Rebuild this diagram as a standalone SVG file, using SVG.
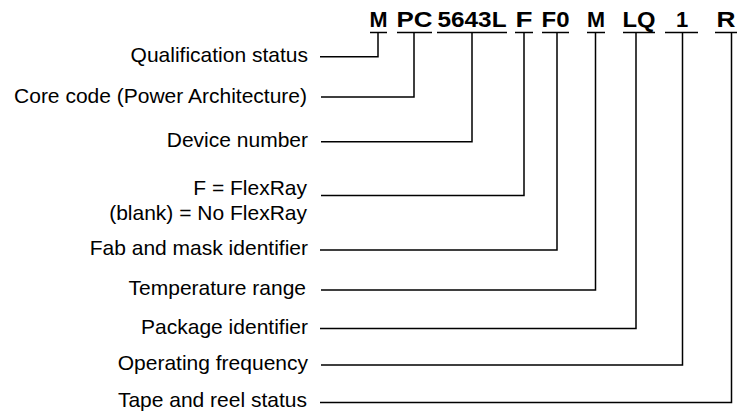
<svg xmlns="http://www.w3.org/2000/svg" width="738" height="413" viewBox="0 0 738 413">
<style>
.lbl{font-family:"Liberation Sans",Arial,sans-serif;font-size:21px;fill:#000;text-anchor:end}
.code{font-family:"Liberation Sans",Arial,sans-serif;font-size:22px;font-weight:bold;fill:#000;text-anchor:middle}
.ul{stroke:#000;stroke-width:1.5;fill:none}
.conn{stroke:#000;stroke-width:1.5;fill:none}
</style>
<rect width="738" height="413" fill="#fff"/>
<g id="code-M"><text class="code" x="378.5" y="27" textLength="18" lengthAdjust="spacingAndGlyphs">M</text><line class="ul" x1="370" y1="32.5" x2="387" y2="32.5"/></g>
<g id="code-PC"><text class="code" x="414.5" y="27" textLength="36" lengthAdjust="spacingAndGlyphs">PC</text><line class="ul" x1="397" y1="32.5" x2="432" y2="32.5"/></g>
<g id="code-5643L"><text class="code" x="472" y="27" textLength="69" lengthAdjust="spacingAndGlyphs">5643L</text><line class="ul" x1="437" y1="32.5" x2="507" y2="32.5"/></g>
<g id="code-F"><text class="code" x="524" y="27" textLength="17" lengthAdjust="spacingAndGlyphs">F</text><line class="ul" x1="515" y1="32.5" x2="533" y2="32.5"/></g>
<g id="code-F0"><text class="code" x="555.5" y="27" textLength="28" lengthAdjust="spacingAndGlyphs">F0</text><line class="ul" x1="542" y1="32.5" x2="569" y2="32.5"/></g>
<g id="code-M2"><text class="code" x="596" y="27" textLength="18" lengthAdjust="spacingAndGlyphs">M</text><line class="ul" x1="587" y1="32.5" x2="605" y2="32.5"/></g>
<g id="code-LQ"><text class="code" x="639" y="27" textLength="33" lengthAdjust="spacingAndGlyphs">LQ</text><line class="ul" x1="623" y1="32.5" x2="655" y2="32.5"/></g>
<g id="code-1"><text class="code" x="682" y="27">1</text><line class="ul" x1="665" y1="32.5" x2="698" y2="32.5"/></g>
<g id="code-R"><text class="code" x="726" y="27" textLength="19" lengthAdjust="spacingAndGlyphs">R</text><line class="ul" x1="715" y1="32.5" x2="737" y2="32.5"/></g>

<g id="label-qualification"><text class="lbl" x="308" y="62">Qualification status</text></g>
<g id="label-core"><text class="lbl" x="307" y="103">Core code (Power Architecture)</text></g>
<g id="label-device"><text class="lbl" x="308" y="147">Device number</text></g>
<g id="label-flexray"><text class="lbl" x="307" y="195">F = FlexRay</text><text class="lbl" x="307" y="220">(blank) = No FlexRay</text></g>
<g id="label-fab"><text class="lbl" x="308" y="255">Fab and mask identifier</text></g>
<g id="label-temp"><text class="lbl" x="306" y="295">Temperature range</text></g>
<g id="label-package"><text class="lbl" x="308" y="334">Package identifier</text></g>
<g id="label-frequency"><text class="lbl" x="308" y="370">Operating frequency</text></g>
<g id="label-tape"><text class="lbl" x="307" y="407">Tape and reel status</text></g>

<g id="connectors">
<polyline class="conn" points="320,56.7 378,56.7 378,32.5"/>
<polyline class="conn" points="321,97 414,97 414,32.5"/>
<polyline class="conn" points="321,141.7 472,141.7 472,32.5"/>
<polyline class="conn" points="321,195.5 524,195.5 524,32.5"/>
<polyline class="conn" points="320,250 557,250 557,32.5"/>
<polyline class="conn" points="321,290 595.5,290 595.5,32.5"/>
<polyline class="conn" points="320,328.5 636,328.5 636,32.5"/>
<polyline class="conn" points="321,365 682.5,365 682.5,32.5"/>
<polyline class="conn" points="320,402.5 731.5,402.5 731.5,32.5"/>
</g>
</svg>
